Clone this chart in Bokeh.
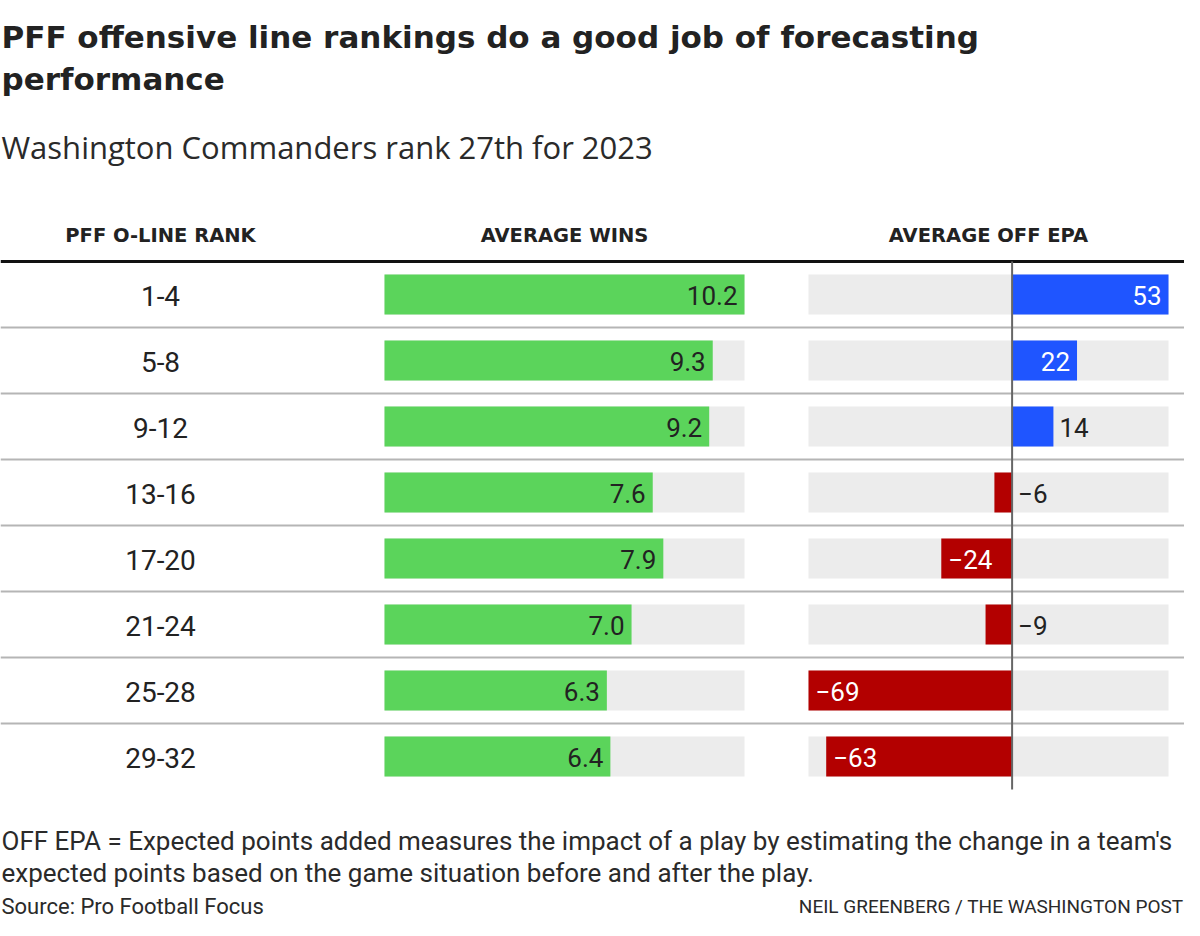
from bokeh.plotting import figure
from bokeh.models import Range1d, ColumnDataSource
from bokeh.core.properties import value
from bokeh.embed import file_html
from bokeh.resources import INLINE

# ---- data ----
ranks = ["1-4", "5-8", "9-12", "13-16", "17-20", "21-24", "25-28", "29-32"]
avg_wins = [10.2, 9.3, 9.2, 7.6, 7.9, 7.0, 6.3, 6.4]
avg_epa = [53, 22, 14, -6, -24, -9, -69, -63]

title_lines = ["PFF offensive line rankings do a good job of forecasting", "performance"]
subtitle = "Washington Commanders rank 27th for 2023"
headers = ["PFF O-LINE RANK", "AVERAGE WINS", "AVERAGE OFF EPA"]
note_lines = ["OFF EPA = Expected points added measures the impact of a play by estimating the change in a team's",
              "expected points based on the game situation before and after the play."]
source = "Source: Pro Football Focus"
credit = "NEIL GREENBERG / THE WASHINGTON POST"

# ---- layout (pixel coordinates in the figure) ----
W, H = 1184, 920
PX0, PY0 = 0, 0
ROW0, ROW_H = 294, 66
BAR_H = 40
WIN_L, WIN_R = 384, 744
EPA_L, EPA_R = 808, 1168
WIN_MAX = max(avg_wins)
EPA_MIN, EPA_MAX = min(avg_epa), max(avg_epa)

GREEN = "#5bd45b"
BG = "#ececec"
BLUE = "#1f55ff"
RED = "#b30000"
DARK = "#222222"
FONT = "Roboto"
WIDE = "DejaVu Sans"
SUBF = "Open Sans"

n = len(ranks)
idx = list(range(n))

# ranges
kw = (WIN_R - WIN_L) / WIN_MAX
wins_range = Range1d((PX0 - WIN_L) / kw, (PX0 + W - WIN_L) / kw)
ke = (EPA_R - EPA_L) / (EPA_MAX - EPA_MIN)
epa_range = Range1d(EPA_MIN + (PX0 - EPA_L) / ke, EPA_MIN + (PX0 + W - EPA_L) / ke)
rows_range = Range1d((PY0 + H - ROW0) / ROW_H, (PY0 - ROW0) / ROW_H)

p = figure(width=W, height=H, x_range=wins_range, y_range=rows_range,
           output_backend="svg", toolbar_location=None, min_border=0)
p.extra_x_ranges = {"epa": epa_range, "px": Range1d(PX0, PX0 + W)}
p.extra_y_ranges = {"py": Range1d(PY0 + H, PY0)}
p.axis.visible = False
p.grid.visible = False
p.outline_line_color = None
p.background_fill_color = "white"
p.border_fill_color = "white"

bh = BAR_H / ROW_H

src = ColumnDataSource(dict(
    y=idx, rank=ranks, wins=avg_wins, epa=avg_epa,
    wins_txt=[f"{v:.1f}" for v in avg_wins],
    epa_txt=[(("\u2212" + str(abs(v))) if v < 0 else str(v)) for v in avg_epa],
    epa_left=[min(0, v) for v in avg_epa],
    epa_right=[max(0, v) for v in avg_epa],
    epa_color=[BLUE if v > 0 else RED for v in avg_epa],
    wmax=[WIN_MAX] * n, emin=[EPA_MIN] * n, emax=[EPA_MAX] * n,
))

# separators
seps = [i + 0.5 for i in range(n - 1)]
p.segment(x0=[PX0] * len(seps), x1=[PX0 + W] * len(seps), y0=seps, y1=seps,
          x_range_name="px", line_color="#b5b5b5", line_width=2)
p.segment(x0=[PX0], x1=[PX0 + W], y0=[-0.5], y1=[-0.5],
          x_range_name="px", line_color="#111111", line_width=3)

# wins bars
p.hbar(y="y", left=0, right="wmax", height=bh, source=src, fill_color=BG, line_color=None)
p.hbar(y="y", left=0, right="wins", height=bh, source=src, fill_color=GREEN, line_color=None)
p.text(x="wins", y="y", text="wins_txt", source=src, text_align="right", text_baseline="middle",
       x_offset=-7, y_offset=1, text_font=value(FONT), text_font_size="26px", text_color=DARK)

# epa bars
p.hbar(y="y", left="emin", right="emax", height=bh, source=src, fill_color=BG, line_color=None,
       x_range_name="epa")
p.hbar(y="y", left="epa_left", right="epa_right", height=bh, source=src, fill_color="epa_color",
       line_color=None, x_range_name="epa")
p.segment(x0=[0], x1=[0], y0=[-0.5], y1=[n - 0.5], x_range_name="epa",
          line_color="#666666", line_width=2)

# epa labels
ins_pos = dict(x=[], y=[], t=[])
ins_neg = dict(x=[], y=[], t=[])
out_lab = dict(x=[], y=[], t=[])
for i, v in enumerate(avg_epa):
    t = src.data["epa_txt"][i]
    if abs(v) >= 20:
        d = ins_pos if v > 0 else ins_neg
        d["x"].append(v); d["y"].append(i); d["t"].append(t)
    else:
        out_lab["x"].append(max(0, v)); out_lab["y"].append(i); out_lab["t"].append(t)
common = dict(x_range_name="epa", text_baseline="middle", y_offset=1, text_font=value(FONT),
              text_font_size="26px")
p.text(x=ins_pos["x"], y=ins_pos["y"], text=ins_pos["t"], text_align="right", x_offset=-7,
       text_color="white", **common)
p.text(x=ins_neg["x"], y=ins_neg["y"], text=ins_neg["t"], text_align="left", x_offset=7,
       text_color="white", **common)
p.text(x=out_lab["x"], y=out_lab["y"], text=out_lab["t"], text_align="left", x_offset=6,
       text_color=DARK, **common)

# rank labels
p.text(x=160, y="y", text="rank", source=src, x_range_name="px", text_align="center",
       text_baseline="middle", y_offset=1, text_font=value(FONT), text_font_size="28px", text_color=DARK)

# headers
p.text(x=[160, 564, 988], y=[235] * 3, text=headers, x_range_name="px", y_range_name="py",
       text_align="center", text_baseline="alphabetic", text_font=value(WIDE), text_font_style="bold",
       text_font_size="19.5px", text_color=DARK)

# title & subtitle
p.text(x=[1, 1], y=[36, 78], text=title_lines, x_range_name="px", y_range_name="py",
       text_align="left", text_baseline="alphabetic", text_font=value(WIDE), text_font_style="bold",
       text_font_size="31px", text_color=DARK)
p.text(x=[1], y=[146], text=[subtitle], x_range_name="px", y_range_name="py",
       text_align="left", text_baseline="alphabetic", text_font=value(SUBF),
       text_font_size="31px", text_color="#2a2a2a")

# footer
p.text(x=[1, 1], y=[840, 872], text=note_lines, x_range_name="px", y_range_name="py",
       text_align="left", text_baseline="alphabetic", text_font=value(FONT),
       text_font_size="26px", text_color="#2a2a2a")
p.text(x=[1], y=[906], text=[source], x_range_name="px", y_range_name="py",
       text_align="left", text_baseline="alphabetic", text_font=value(FONT),
       text_font_size="22px", text_color="#2a2a2a")
p.text(x=[PX0 + W - 1], y=[906], text=[credit], x_range_name="px", y_range_name="py",
       text_align="right", text_baseline="alphabetic", text_font=value(FONT),
       text_font_size="19px", text_color="#2a2a2a")

open("out.html", "w").write(file_html(p, INLINE))
